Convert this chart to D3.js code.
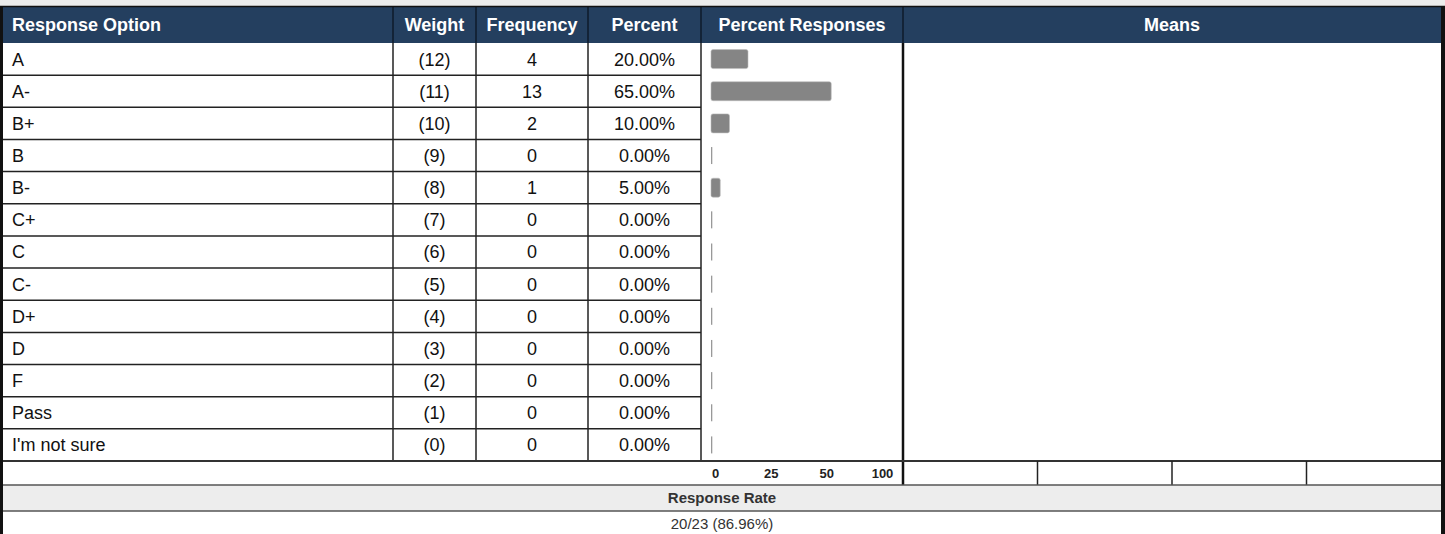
<!DOCTYPE html>
<html>
<head>
<meta charset="utf-8">
<script src="https://cdn.jsdelivr.net/npm/d3@7"></script>
<style>
  html, body { margin: 0; padding: 0; background: #fff; }
  svg { display: block; font-family: "Liberation Sans", Arial, sans-serif; }
</style>
</head>
<body>
<svg id="chart"></svg>
<script>
// table data
var options = ["A", "A-", "B+", "B", "B-", "C+", "C", "C-", "D+", "D", "F", "Pass", "I'm not sure"];
var weights = [12, 11, 10, 9, 8, 7, 6, 5, 4, 3, 2, 1, 0];
var frequencies = [4, 13, 2, 0, 1, 0, 0, 0, 0, 0, 0, 0, 0];
var percents = [20, 65, 10, 0, 5, 0, 0, 0, 0, 0, 0, 0, 0];
var headers = ["Response Option", "Weight", "Frequency", "Percent", "Percent Responses", "Means"];
var tickLabels = ["0", "25", "50", "100"];
var meansCells = ["", "", "", ""];
var responded = 20, invited = 23;

var width = 1445, height = 534;
// column edges (layout)
var cols = [3, 393, 476, 588, 701, 903, 1441];
var headTop = 7, headBottom = 43, bodyBottom = 461, axisBottom = 485, rateBottom = 511;

var svg = d3.select("#chart")
    .attr("width", width)
    .attr("height", height);

var y = d3.scaleBand()
    .domain(options)
    .range([headBottom, bodyBottom]);

var x = d3.scaleLinear()
    .domain([0, 100])
    .range([711, 896]);

var tickX = d3.scalePoint()
    .domain(tickLabels)
    .range([715, 882]);

var meansX = d3.scaleBand()
    .domain(d3.range(meansCells.length))
    .range([cols[5], cols[6]]);

// top grey strip
svg.append("rect")
    .attr("x", 0).attr("y", 0).attr("width", width).attr("height", 6)
    .attr("fill", "#ececec");

// header
svg.append("rect")
    .attr("x", cols[0]).attr("y", headTop)
    .attr("width", cols[6] - cols[0]).attr("height", headBottom - headTop)
    .attr("fill", "#243f5f");

svg.selectAll(".hsep")
    .data(cols.slice(1, 6))
    .enter().append("line")
    .attr("x1", d => d).attr("x2", d => d)
    .attr("y1", headTop).attr("y2", headBottom)
    .attr("stroke", "#0e1b2a")
    .attr("stroke-width", 1.5);

svg.selectAll(".htext")
    .data(headers)
    .enter().append("text")
    .attr("x", function (d, i) { return i == 0 ? 12 : (cols[i] + cols[i + 1]) / 2; })
    .attr("y", (headTop + headBottom) / 2)
    .attr("dy", "0.36em")
    .attr("text-anchor", (d, i) => i == 0 ? "start" : "middle")
    .attr("fill", "#fff")
    .attr("font-weight", "bold")
    .attr("font-size", 18)
    .text(d => d);

// body row lines (first four columns only)
svg.selectAll(".rowline")
    .data(options.slice(1))
    .enter().append("line")
    .attr("x1", cols[0]).attr("x2", cols[4])
    .attr("y1", d => y(d)).attr("y2", d => y(d))
    .attr("stroke", "#222")
    .attr("stroke-width", 1.5);

svg.selectAll(".colline")
    .data(cols.slice(1, 5))
    .enter().append("line")
    .attr("x1", d => d).attr("x2", d => d)
    .attr("y1", headBottom).attr("y2", bodyBottom)
    .attr("stroke", "#222")
    .attr("stroke-width", 1.5);

svg.append("line")
    .attr("x1", cols[5]).attr("x2", cols[5])
    .attr("y1", headBottom).attr("y2", axisBottom)
    .attr("stroke", "#111")
    .attr("stroke-width", 2.5);

// row texts
var rows = svg.selectAll(".row")
    .data(options)
    .enter().append("g")
    .attr("transform", d => "translate(0," + (y(d) + y.bandwidth() / 2) + ")")
    .attr("font-size", 18)
    .attr("fill", "#111");

rows.append("text")
    .attr("x", 12).attr("dy", "0.36em")
    .text(d => d);

rows.append("text")
    .attr("x", (cols[1] + cols[2]) / 2).attr("dy", "0.36em")
    .attr("text-anchor", "middle")
    .text((d, i) => "(" + weights[i] + ")");

rows.append("text")
    .attr("x", (cols[2] + cols[3]) / 2).attr("dy", "0.36em")
    .attr("text-anchor", "middle")
    .text((d, i) => frequencies[i]);

rows.append("text")
    .attr("x", (cols[3] + cols[4]) / 2).attr("dy", "0.36em")
    .attr("text-anchor", "middle")
    .text((d, i) => percents[i].toFixed(2) + "%");

// bars
svg.selectAll(".bar")
    .data(options)
    .enter().append("rect")
    .attr("x", x(0))
    .attr("y", function (d, i) { var h = percents[i] > 0 ? 19 : 17; return y(d) + (y.bandwidth() - h) / 2; })
    .attr("width", (d, i) => percents[i] > 0 ? x(percents[i]) - x(0) : 1.3)
    .attr("height", (d, i) => percents[i] > 0 ? 19 : 17)
    .attr("rx", (d, i) => percents[i] > 0 ? 2 : 0)
    .attr("fill", (d, i) => percents[i] > 0 ? "#858585" : "#999")
    .attr("stroke", (d, i) => percents[i] > 0 ? "#bdbdbd" : "none")
    .attr("stroke-width", 0.6);

// axis row
svg.append("line")
    .attr("x1", cols[0]).attr("x2", cols[6])
    .attr("y1", bodyBottom).attr("y2", bodyBottom)
    .attr("stroke", "#333")
    .attr("stroke-width", 2);

var axis = svg.append("g")
    .attr("transform", "translate(0," + (bodyBottom + 12) + ")")
    .call(d3.axisBottom(tickX).tickSize(0).tickPadding(0));
axis.select(".domain").remove();
axis.selectAll("text")
    .attr("dy", "0.36em")
    .attr("y", 0)
    .attr("font-family", "Liberation Sans, Arial, sans-serif")
    .attr("font-weight", "bold")
    .attr("font-size", 13)
    .attr("fill", "#222");

svg.selectAll(".msep")
    .data(d3.range(1, meansCells.length))
    .enter().append("line")
    .attr("x1", d => meansX(d)).attr("x2", d => meansX(d))
    .attr("y1", bodyBottom).attr("y2", axisBottom)
    .attr("stroke", "#222")
    .attr("stroke-width", 1.5);

// response rate band
svg.append("rect")
    .attr("x", cols[0]).attr("y", axisBottom)
    .attr("width", cols[6] - cols[0]).attr("height", rateBottom - axisBottom)
    .attr("fill", "#ededed");

svg.selectAll(".rateline")
    .data([axisBottom, rateBottom])
    .enter().append("line")
    .attr("x1", cols[0]).attr("x2", cols[6])
    .attr("y1", d => d).attr("y2", d => d)
    .attr("stroke", "#555")
    .attr("stroke-width", 1.5);

svg.append("text")
    .attr("x", (cols[0] + cols[6]) / 2)
    .attr("y", (axisBottom + rateBottom) / 2)
    .attr("dy", "0.36em")
    .attr("text-anchor", "middle")
    .attr("font-weight", "bold")
    .attr("font-size", 15)
    .attr("fill", "#333")
    .text("Response Rate");

svg.append("text")
    .attr("x", (cols[0] + cols[6]) / 2)
    .attr("y", (rateBottom + height) / 2 + 1)
    .attr("dy", "0.36em")
    .attr("text-anchor", "middle")
    .attr("font-size", 15)
    .attr("fill", "#333")
    .text(responded + "/" + invited + " (" + (responded / invited * 100).toFixed(2) + "%)");

// outer border
svg.append("line")
    .attr("x1", 0).attr("x2", width)
    .attr("y1", 6.5).attr("y2", 6.5)
    .attr("stroke", "#111")
    .attr("stroke-width", 1.5);
svg.append("rect")
    .attr("x", 0).attr("y", 6).attr("width", 3).attr("height", height - 6)
    .attr("fill", "#111");
svg.append("rect")
    .attr("x", 1441).attr("y", 6).attr("width", 4).attr("height", height - 6)
    .attr("fill", "#111");
</script>
</body>
</html>
